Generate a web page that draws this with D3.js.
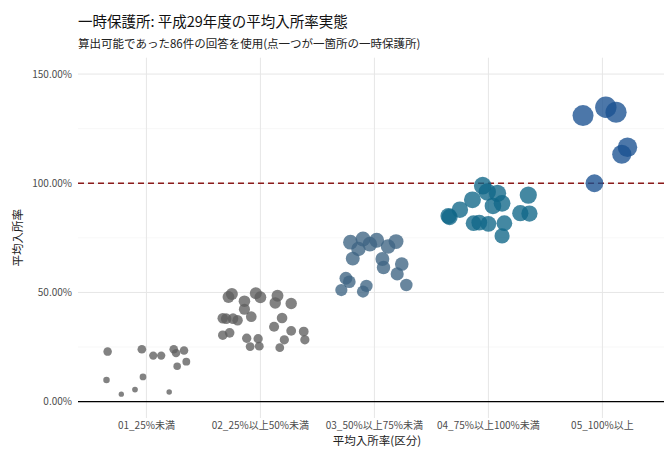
<!DOCTYPE html>
<html>
<head>
<meta charset="utf-8">
<script src="https://cdn.jsdelivr.net/npm/d3@7"></script>
<style>
  body { margin: 0; background: #fff; }
  text { font-family: "Noto Sans CJK JP", "Noto Sans", sans-serif; }
</style>
</head>
<body>
<svg id="chart" width="664" height="450"></svg>
<script>
var svg = d3.select("#chart"),
  width = +svg.attr("width"),
  height = +svg.attr("height");

// Categories and points (value = average rate, jit = horizontal jitter in category units)
var categories = ["01_25%未満", "02_25%以上50%未満", "03_50%以上75%未満", "04_75%以上100%未満", "05_100%以上"];
var cat01 = [0.229, 0.240, 0.211, 0.211, 0.240, 0.222, 0.234, 0.183, 0.162, 0.099, 0.113, 0.034, 0.055, 0.044];
var jit01 = [-0.34, -0.04, 0.06, 0.13, 0.24, 0.26, 0.33, 0.35, 0.27, -0.35, -0.03, -0.22, -0.10, 0.20];
var cat02 = [0.479, 0.493, 0.496, 0.478, 0.485, 0.452, 0.449, 0.460, 0.423, 0.389, 0.382, 0.380, 0.380, 0.373,
             0.383, 0.343, 0.304, 0.315, 0.290, 0.288, 0.252, 0.254, 0.324, 0.283, 0.247, 0.321, 0.283];
var jit02 = [-0.28, -0.25, -0.04, 0.00, 0.15, 0.13, 0.27, -0.14, -0.14, -0.08, -0.33, -0.30, -0.24, -0.20,
             0.19, 0.12, -0.33, -0.27, -0.12, -0.02, -0.09, -0.01, 0.27, 0.21, 0.17, 0.38, 0.39];
var cat03 = [0.730, 0.745, 0.699, 0.721, 0.739, 0.710, 0.733, 0.655, 0.653, 0.614, 0.630, 0.585, 0.534,
             0.565, 0.549, 0.511, 0.530, 0.504];
var jit03 = [-0.21, -0.10, -0.14, -0.04, 0.02, 0.12, 0.19, -0.19, 0.07, 0.08, 0.24, 0.20, 0.28,
             -0.25, -0.22, -0.29, -0.07, -0.10];
var cat04 = [0.850, 0.879, 0.924, 0.989, 0.960, 0.954, 0.896, 0.908, 0.817, 0.820, 0.814, 0.817, 0.759,
             0.946, 0.863, 0.861, 0.845];
var jit04 = [-0.35, -0.25, -0.14, -0.05, -0.01, 0.08, 0.04, 0.12, -0.13, -0.08, -0.00, 0.14, 0.12,
             0.35, 0.28, 0.36, -0.34];
var cat05 = [1.310, 1.348, 1.325, 1.165, 1.133, 1.000];
var jit05 = [-0.17, 0.03, 0.12, 0.22, 0.17, -0.07];
var catColors = ["#5f5f5f", "#5f5f5f", "#3d6483", "#0f6688", "#1a5191"];
var yTicks = [0, 0.5, 1.0, 1.5];
var yMinor = [0.25, 0.75, 1.25];

var groups = [cat01, cat02, cat03, cat04, cat05];
var jitters = [jit01, jit02, jit03, jit04, jit05];
var points = [];
groups.forEach(function(vals, i) {
  vals.forEach(function(v, j) {
    points.push({cat: categories[i], idx: i, value: v, jit: jitters[i][j]});
  });
});

var margin = {top: 57.7, left: 78, bottom: 418, right: 671};
var step = 114;

// x: discrete positions, continuous for jitter
var x = d3.scaleLinear().domain([0.4, 5.6]).range([margin.left, margin.left + 5.2 * step]);
var y = d3.scaleLinear().domain([-0.075, 1.575]).range([margin.bottom, margin.top]);
var r = d3.scalePow().exponent(0.8).domain([0, 1.35]).range([2.2, 10.7]);

var grid = svg.append("g");
grid.selectAll(".minor").data(yMinor).enter().append("line")
  .attr("x1", margin.left).attr("x2", width)
  .attr("y1", function(d) { return y(d); }).attr("y2", function(d) { return y(d); })
  .style("stroke", "#f2f2f2").style("stroke-width", 0.6);
grid.selectAll(".major").data(yTicks).enter().append("line")
  .attr("x1", margin.left).attr("x2", width)
  .attr("y1", function(d) { return y(d); }).attr("y2", function(d) { return y(d); })
  .style("stroke", "#e6e6e6").style("stroke-width", 1);
grid.selectAll(".vmajor").data(categories).enter().append("line")
  .attr("x1", function(d, i) { return x(i + 1); }).attr("x2", function(d, i) { return x(i + 1); })
  .attr("y1", margin.top).attr("y2", margin.bottom)
  .style("stroke", "#e6e6e6").style("stroke-width", 1);

// zero line and 100% line
svg.append("line")
  .attr("x1", margin.left).attr("x2", width)
  .attr("y1", y(0)).attr("y2", y(0))
  .style("stroke", "#000").style("stroke-width", 1.3);
svg.append("line")
  .attr("x1", margin.left).attr("x2", width)
  .attr("y1", y(1)).attr("y2", y(1))
  .style("stroke", "#8b1a1a").style("stroke-width", 1.3)
  .style("stroke-dasharray", "6,4");

// points
svg.append("g").selectAll("circle")
  .data(points)
  .enter().append("circle")
  .attr("cx", function(d) { return x(d.idx + 1 + d.jit); })
  .attr("cy", function(d) { return y(d.value); })
  .attr("r", function(d) { return r(d.value); })
  .style("fill", function(d) { return catColors[d.idx]; })
  .style("opacity", 0.78);

// axes labels
var fmt = function(d) { return d3.format(".2f")(d * 100) + "%"; };
svg.append("g").selectAll("text").data(yTicks).enter().append("text")
  .attr("x", 72).attr("y", function(d) { return y(d); })
  .attr("dy", "0.35em").attr("text-anchor", "end")
  .style("font-size", "10px").style("fill", "#4d4d4d")
  .text(fmt);
svg.append("g").selectAll("text").data(categories).enter().append("text")
  .attr("x", function(d, i) { return x(i + 1); }).attr("y", 429)
  .attr("text-anchor", "middle")
  .style("font-size", "10px").style("fill", "#4d4d4d")
  .text(function(d) { return d; });

svg.append("text")
  .attr("x", (margin.left + width) / 2 + 6).attr("y", 445)
  .attr("text-anchor", "middle")
  .style("font-size", "11.5px").style("fill", "#222")
  .text("平均入所率(区分)");
svg.append("text")
  .attr("transform", "translate(22," + y(0.75) + ") rotate(-90)")
  .attr("text-anchor", "middle")
  .style("font-size", "11.5px").style("fill", "#222")
  .text("平均入所率");

// titles
svg.append("text")
  .attr("x", 78).attr("y", 27)
  .style("font-size", "14.5px").style("fill", "#111")
  .text("一時保護所: 平成29年度の平均入所率実態");
svg.append("text")
  .attr("x", 78).attr("y", 48)
  .style("font-size", "11.5px").style("fill", "#222")
  .text("算出可能であった86件の回答を使用(点一つが一箇所の一時保護所)");
</script>
</body>
</html>
